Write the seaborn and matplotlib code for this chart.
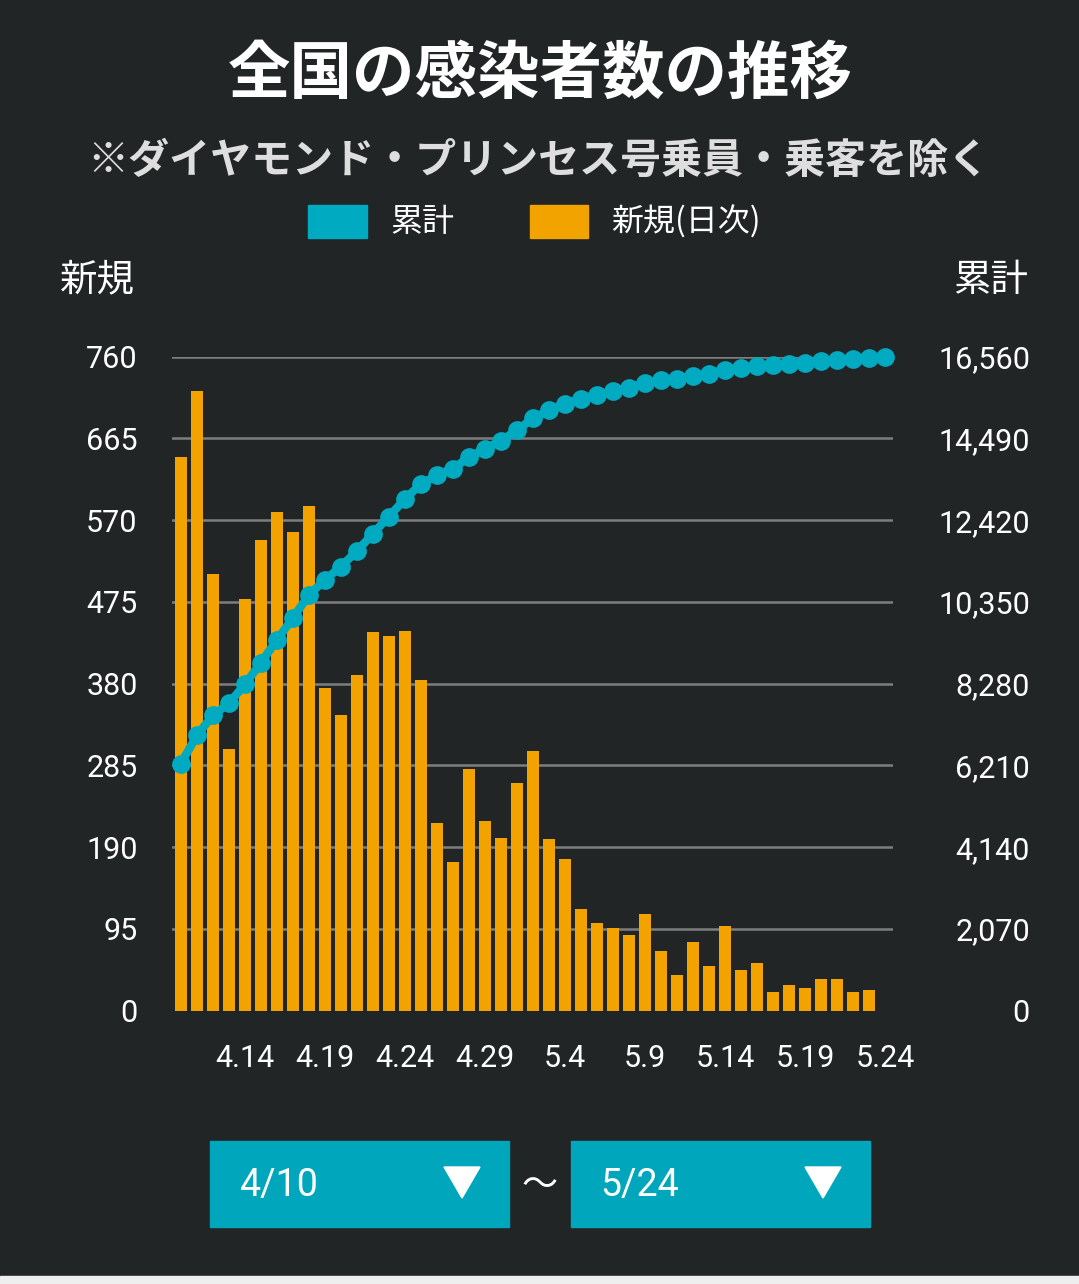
import numpy as np
import pandas as pd
import matplotlib
matplotlib.use("Agg")
import matplotlib.pyplot as plt
from matplotlib.patches import Rectangle, Polygon
from matplotlib.ticker import FuncFormatter
import seaborn as sns

# ---------------- data ----------------
dates = [f"{d.month}.{d.day}" for d in pd.date_range("2020-04-10", "2020-05-24")]
new_cases = [644, 720, 507, 304, 479, 547, 579, 556, 586, 375,
             344, 390, 440, 435, 441, 384, 218, 173, 281, 221,
             201, 265, 302, 200, 176, 118, 102, 96, 88, 112,
             69, 42, 80, 52, 98, 47, 55, 22, 30, 26,
             37, 37, 22, 24, 0]
cumulative = [6250, 6970, 7477, 7781, 8260, 8807, 9386, 9942, 10528, 10903,
              11247, 11637, 12077, 12512, 12953, 13337, 13555, 13728, 14009, 14230,
              14431, 14696, 14998, 15198, 15374, 15492, 15594, 15690, 15778, 15890,
              15959, 16001, 16081, 16133, 16231, 16278, 16333, 16355, 16385, 16411,
              16448, 16485, 16507, 16531, 16550]
x_tick_labels = ["4.14", "4.19", "4.24", "4.29", "5.4", "5.9", "5.14", "5.19", "5.24"]
left_ticks = [0, 95, 190, 285, 380, 475, 570, 665, 760]
right_ticks = [0, 2070, 4140, 6210, 8280, 10350, 12420, 14490, 16560]
title = "全国の感染者数の推移"
subtitle = "※ダイヤモンド・プリンセス号乗員・乗客を除く"
legend_labels = ["累計", "新規(日次)"]
range_start, range_end = "4/10", "5/24"

# ---------------- style ----------------
BG = "#222526"
TEAL = "#00AAC0"
BOX = "#00A7BC"
ORANGE = "#F2A300"
GRID = "#7d7d7d"
TXT = "#ffffff"

sns.set_theme(style="dark")
plt.rcParams["font.family"] = ["Roboto", "Noto Sans CJK JP", "DejaVu Sans"]
CJK = ["Noto Sans CJK JP", "DejaVu Sans"]

W, H = 1079, 1284
fig = plt.figure(figsize=(W / 100, H / 100), dpi=100, facecolor=BG)

def fx(px):
    return px / W

def fy(py):
    return 1 - py / H

ax_left, ax_right = 172, 893
ax_top, ax_bot = 356.7, 1010.7
ax = fig.add_axes([fx(ax_left), fy(ax_bot), fx(ax_right - ax_left), (ax_bot - ax_top) / H])
ax.set_facecolor(BG)

df = pd.DataFrame({"date": dates, "new": new_cases, "cum": cumulative})
df["pos"] = np.arange(len(df))

sns.barplot(data=df, x="date", y="new", order=dates, color=ORANGE, saturation=1,
            width=0.78, ax=ax, edgecolor="none")
ax.set_axisbelow(True)
ax.set_ylim(0, 760)
ax.set_yticks(left_ticks)
ax.set_yticklabels([str(v) for v in left_ticks])
ax.yaxis.grid(True, color=GRID, lw=1.8)
ax.xaxis.grid(False)
ax.get_ygridlines()[0].set_visible(False)

ax2 = ax.twinx()
sns.lineplot(data=df, x="pos", y="cum", ax=ax2, color=TEAL, lw=6, marker="o",
             markersize=13.5, markeredgewidth=0, legend=False)
for ln in ax2.lines:
    ln.set_clip_on(False)
ax2.set_ylim(0, 16560)
ax2.set_yticks(right_ticks)
ax2.yaxis.set_major_formatter(FuncFormatter(lambda v, p: f"{int(v):,}"))
ax2.grid(False)

ax.set_xlim(-0.55, len(dates) - 0.5)
ax.set_xticks([dates.index(t) for t in x_tick_labels])
ax.set_xticklabels(x_tick_labels)
ax.set_xlabel("")
ax.set_ylabel("")
ax2.set_xlabel("")
ax2.set_ylabel("")

for a in (ax, ax2):
    for s in a.spines.values():
        s.set_visible(False)

ax.tick_params(axis="y", length=0, pad=24.7, labelsize=22, labelcolor=TXT)
ax.tick_params(axis="x", length=0, pad=24, labelsize=22, labelcolor=TXT)
ax2.tick_params(axis="y", length=0, pad=98.6, labelsize=22, labelcolor=TXT)
for lbl in ax2.get_yticklabels():
    lbl.set_horizontalalignment("right")
for lbl in ax.get_xticklabels() + ax.get_yticklabels() + ax2.get_yticklabels():
    lbl.set_fontweight("normal")

# ---------------- texts ----------------
fig.text(fx(540), fy(74), title, ha="center", va="center", fontsize=45,
         fontweight="bold", color="white", family=CJK)
fig.text(fx(538), fy(161), subtitle, ha="center", va="center", fontsize=29.5,
         fontweight="bold", color="#dedede", family=CJK)

# legend
fig.patches.append(Rectangle((fx(308), fy(238)), fx(59), 33 / H, transform=fig.transFigure,
                             color=TEAL, zorder=5))
fig.patches.append(Rectangle((fx(530), fy(238)), fx(58), 33 / H, transform=fig.transFigure,
                             color=ORANGE, zorder=5))
fig.text(fx(390), fy(222), legend_labels[0], ha="left", va="center", fontsize=23,
         color=TXT, family=CJK)
fig.text(fx(611), fy(222), legend_labels[1], ha="left", va="center", fontsize=23,
         color=TXT, family=CJK)

# axis titles
fig.text(fx(97), fy(280), "新規", ha="center", va="center", fontsize=27, color=TXT, family=CJK)
fig.text(fx(991), fy(280), "累計", ha="center", va="center", fontsize=27, color=TXT, family=CJK)

# range selector boxes
for x0, label in ((210, range_start), (571, range_end)):
    fig.patches.append(Rectangle((fx(x0), fy(1227)), fx(299), 86 / H,
                                 transform=fig.transFigure, color=BOX, zorder=5))
    fig.text(fx(x0 + 29), fy(1185), label, ha="left", va="center", fontsize=27,
             fontweight="normal", color=TXT, zorder=6)
    tx = x0 + 234
    fig.patches.append(Polygon([(fx(tx), fy(1167)), (fx(tx + 36), fy(1167)), (fx(tx + 18), fy(1198))],
                               closed=True, transform=fig.transFigure, color="white", zorder=6))
fig.text(fx(540), fy(1186), "〜", ha="center", va="center", fontsize=26, color=TXT, family=CJK)

# bottom light strip
fig.patches.append(Rectangle((0, 0), 1, 8 / H, transform=fig.transFigure, color="#eeeeee", zorder=5))

fig.savefig("out.png", dpi=100, facecolor=BG)
